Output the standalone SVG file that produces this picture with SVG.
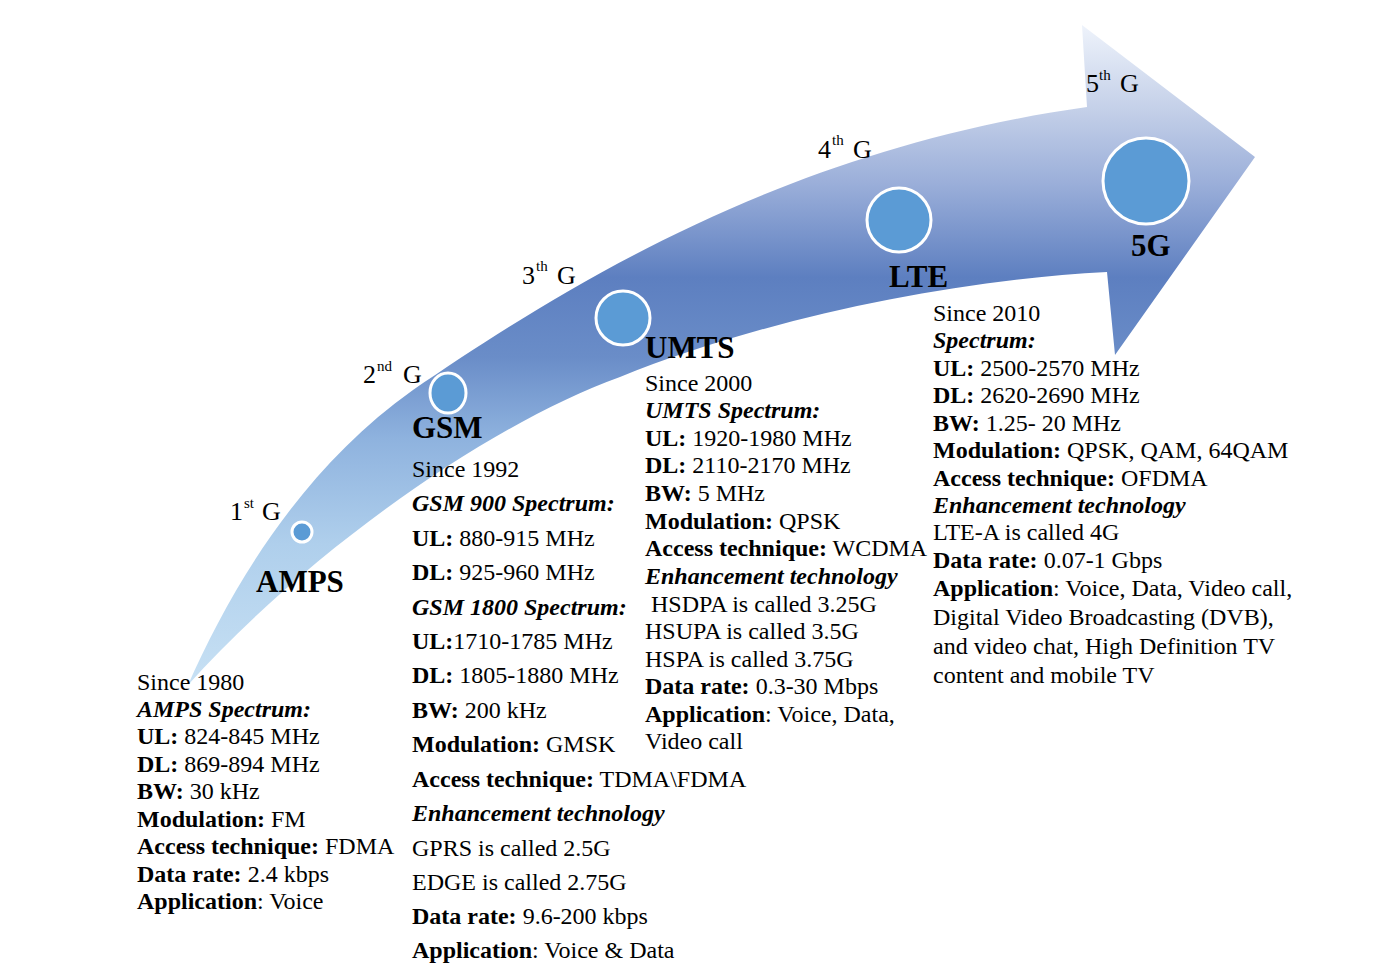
<svg xmlns="http://www.w3.org/2000/svg" width="1388" height="972" viewBox="0 0 1388 972">
<defs>
<linearGradient id="arrowGrad" gradientUnits="userSpaceOnUse" x1="0" y1="25" x2="0" y2="690">
<stop offset="0" stop-color="#eef3fb"/>
<stop offset="0.13" stop-color="#c3cfe8"/>
<stop offset="0.24" stop-color="#9aaed9"/>
<stop offset="0.38" stop-color="#5d7fc0"/>
<stop offset="0.5" stop-color="#6a8dc8"/>
<stop offset="0.62" stop-color="#8eb2de"/>
<stop offset="0.78" stop-color="#afcfec"/>
<stop offset="1" stop-color="#c8e1f4"/>
</linearGradient>
<style>
.t{font-family:"Liberation Serif","Times New Roman",serif;font-size:24px;fill:#000}
.b{font-weight:bold}
.bi{font-weight:bold;font-style:italic}
.lbl{font-family:"Liberation Serif","Times New Roman",serif;font-size:31px;font-weight:bold;fill:#000}
.gen{font-family:"Liberation Serif","Times New Roman",serif;font-size:26px;fill:#000}
.sup{font-family:"Liberation Serif","Times New Roman",serif;font-size:15px;fill:#000}
.dot{fill:#5b9bd5;stroke:#fff;stroke-width:3}
</style>
</defs>
<rect width="1388" height="972" fill="#fff"/>
<g id="arrow">
<path d="M188,685 C230,590 300,470 413,390 C560,290 780,150 1087,107 L1082,25 L1255,157 L1115,355 L1107,272 C950,280 760,320 620,377 C480,428 300,560 188,685 Z" fill="url(#arrowGrad)"/>
</g>
<g id="connectors"></g>
<g id="gen1">
<text class="gen" x="230" y="520">1</text><text class="sup" x="244" y="508">st</text><text class="gen" x="262" y="520">G</text>
<circle class="dot" cx="302" cy="532" r="10"/>
<text class="lbl" x="256" y="592">AMPS</text>
<text class="t" x="137" y="690">Since 1980</text>
<text class="t bi" x="137" y="717">AMPS Spectrum:</text>
<text class="t" x="137" y="744"><tspan class="b">UL:</tspan> 824-845 MHz</text>
<text class="t" x="137" y="772"><tspan class="b">DL:</tspan> 869-894 MHz</text>
<text class="t" x="137" y="799"><tspan class="b">BW:</tspan> 30 kHz</text>
<text class="t" x="137" y="827"><tspan class="b">Modulation:</tspan> FM</text>
<text class="t" x="137" y="854"><tspan class="b">Access technique:</tspan> FDMA</text>
<text class="t" x="137" y="882"><tspan class="b">Data rate:</tspan> 2.4 kbps</text>
<text class="t" x="137" y="909"><tspan class="b">Application</tspan>: Voice</text>
</g>
<g id="gen2">
<text class="gen" x="363" y="383">2</text><text class="sup" x="377" y="371">nd</text><text class="gen" x="403" y="383">G</text>
<ellipse class="dot" cx="448" cy="393" rx="18" ry="20"/>
<text class="lbl" x="412" y="438">GSM</text>
<text class="t" x="412" y="477">Since 1992</text>
<text class="t bi" x="412" y="511">GSM 900 Spectrum:</text>
<text class="t" x="412" y="546"><tspan class="b">UL:</tspan> 880-915 MHz</text>
<text class="t" x="412" y="580"><tspan class="b">DL:</tspan> 925-960 MHz</text>
<text class="t bi" x="412" y="615">GSM 1800 Spectrum:</text>
<text class="t" x="412" y="649"><tspan class="b">UL:</tspan>1710-1785 MHz</text>
<text class="t" x="412" y="683"><tspan class="b">DL:</tspan> 1805-1880 MHz</text>
<text class="t" x="412" y="718"><tspan class="b">BW:</tspan> 200 kHz</text>
<text class="t" x="412" y="752"><tspan class="b">Modulation:</tspan> GMSK</text>
<text class="t" x="412" y="787"><tspan class="b">Access technique:</tspan> TDMA\FDMA</text>
<text class="t bi" x="412" y="821">Enhancement technology</text>
<text class="t" x="412" y="856">GPRS is called 2.5G</text>
<text class="t" x="412" y="890">EDGE is called 2.75G</text>
<text class="t" x="412" y="924"><tspan class="b">Data rate:</tspan> 9.6-200 kbps</text>
<text class="t" x="412" y="958"><tspan class="b">Application</tspan>: Voice &amp; Data</text>
</g>
<g id="gen3">
<text class="gen" x="522" y="284">3</text><text class="sup" x="536" y="271">th</text><text class="gen" x="557" y="284">G</text>
<circle class="dot" cx="623" cy="318" r="27"/>
<text class="lbl" x="645" y="358">UMTS</text>
<text class="t" x="645" y="391">Since 2000</text>
<text class="t bi" x="645" y="418">UMTS Spectrum:</text>
<text class="t" x="645" y="446"><tspan class="b">UL:</tspan> 1920-1980 MHz</text>
<text class="t" x="645" y="473"><tspan class="b">DL:</tspan> 2110-2170 MHz</text>
<text class="t" x="645" y="501"><tspan class="b">BW:</tspan> 5 MHz</text>
<text class="t" x="645" y="529"><tspan class="b">Modulation:</tspan> QPSK</text>
<text class="t" x="645" y="556"><tspan class="b">Access technique:</tspan> WCDMA</text>
<text class="t bi" x="645" y="584">Enhancement technology</text>
<text class="t" x="651" y="612">HSDPA is called 3.25G</text>
<text class="t" x="645" y="639">HSUPA is called 3.5G</text>
<text class="t" x="645" y="667">HSPA is called 3.75G</text>
<text class="t" x="645" y="694"><tspan class="b">Data rate:</tspan> 0.3-30 Mbps</text>
<text class="t" x="645" y="722"><tspan class="b">Application</tspan>: Voice, Data,</text>
<text class="t" x="645" y="749">Video call</text>
</g>
<g id="gen4">
<text class="gen" x="818" y="158">4</text><text class="sup" x="832" y="145">th</text><text class="gen" x="853" y="158">G</text>
<circle class="dot" cx="899" cy="220" r="32"/>
<text class="lbl" x="889" y="287">LTE</text>
<text class="t" x="933" y="321">Since 2010</text>
<text class="t bi" x="933" y="348">Spectrum:</text>
<text class="t" x="933" y="376"><tspan class="b">UL:</tspan> 2500-2570 MHz</text>
<text class="t" x="933" y="403"><tspan class="b">DL:</tspan> 2620-2690 MHz</text>
<text class="t" x="933" y="431"><tspan class="b">BW:</tspan> 1.25- 20 MHz</text>
<text class="t" x="933" y="458"><tspan class="b">Modulation:</tspan> QPSK, QAM, 64QAM</text>
<text class="t" x="933" y="486"><tspan class="b">Access technique:</tspan> OFDMA</text>
<text class="t bi" x="933" y="513">Enhancement technology</text>
<text class="t" x="933" y="540">LTE-A is called 4G</text>
<text class="t" x="933" y="568"><tspan class="b">Data rate:</tspan> 0.07-1 Gbps</text>
<text class="t" x="933" y="596"><tspan class="b">Application</tspan>: Voice, Data, Video call,</text>
<text class="t" x="933" y="625">Digital Video Broadcasting (DVB),</text>
<text class="t" x="933" y="654">and video chat, High Definition TV</text>
<text class="t" x="933" y="683">content and mobile TV</text>
</g>
<g id="gen5">
<text class="gen" x="1086" y="92">5</text><text class="sup" x="1099" y="80">th</text><text class="gen" x="1120" y="92">G</text>
<circle class="dot" cx="1146" cy="181" r="43"/>
<text class="lbl" x="1131" y="256">5G</text>
</g>
</svg>
